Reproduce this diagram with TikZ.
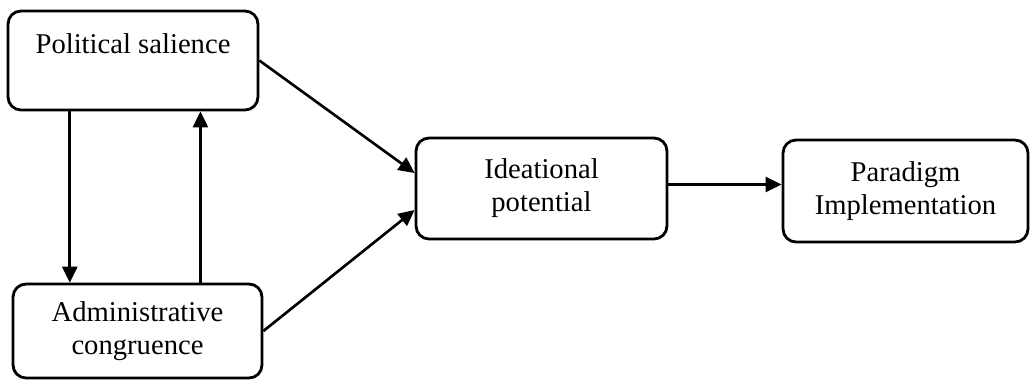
\documentclass[tikz,border=0pt]{standalone}
\usepackage{fontspec}
\setmainfont{Liberation Serif}
\usetikzlibrary{arrows.meta,calc}
\begin{document}
\begin{tikzpicture}[x=0.02cm, y=-0.02cm,
    factor/.style={draw, line width=1.6pt, rounded corners=0.26cm, align=center,
      inner sep=0pt, font=\fontsize{16.3}{18.8}\selectfont},
    link/.style={line width=1.5pt, -{Triangle[length=0.32cm, width=0.3cm]}}]
    \useasboundingbox (0,0) rectangle (1031,380);
    \node[factor, minimum width=5cm,   minimum height=1.98cm] (ps) at (133,60.5)  {Political salience\\ ~};
    \node[factor, minimum width=4.98cm, minimum height=1.88cm] (ac) at (137.5,331) {Administrative\\congruence};
    \node[factor, minimum width=5.02cm, minimum height=2.02cm] (ip) at (541.5,188.5) {Ideational\\potential};
    \node[factor, minimum width=4.9cm,  minimum height=2.04cm] (pi) at (905.5,191)  {Paradigm\\Implementation};
    \coordinate (down) at ($(ps.south west)!0.25!(ps.south east)$);
    \coordinate (up)   at ($(ac.north west)!0.75!(ac.north east)$);
    \draw[link] (down) -- (down |- ac.north);
    \draw[link] (up) -- (up |- ps.south);
    \draw[link] (ps.east) -- ([yshift=0.31cm]ip.west);
    \draw[link] (ac.east) -- ([yshift=-0.43cm]ip.west);
    \draw[link] ([yshift=0.08cm]ip.east) -- ([yshift=0.08cm]ip.east -| pi.west);
  \end{tikzpicture}
\end{document}
